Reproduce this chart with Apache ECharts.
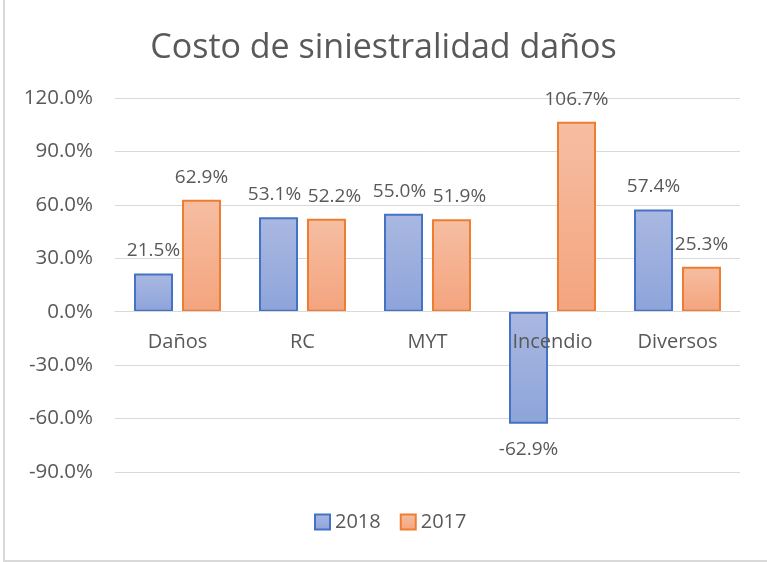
<!DOCTYPE html>
<html><head><meta charset="utf-8">
<script src="https://cdn.jsdelivr.net/npm/echarts@6/dist/echarts.min.js"></script>
<style>
html,body{margin:0;padding:0;background:#fff;}
#frame{position:absolute;left:3px;top:0;width:764px;height:560px;border-left:2px solid #d9d9d9;border-bottom:2px solid #d9d9d9;}
#c{position:absolute;left:0;top:0;width:767px;height:562px;}
</style></head>
<body>
<div id="frame"></div>
<div id="c"></div>
<script>
const categories = ['Daños', 'RC', 'MYT', 'Incendio', 'Diversos'];
const values2018 = [21.5, 53.1, 55.0, -62.9, 57.4];
const values2017 = [62.9, 52.2, 51.9, 106.7, 25.3];
const seriesNames = ['2018', '2017'];
const titleText = 'Costo de siniestralidad daños';
const yMin = -90, yMax = 120, yStep = 30;

const FONT = "'Open Sans', 'Liberation Sans', sans-serif";
const TXT = '#595959';
const GRID = {left: 115, right: 27, top: 98, bottom: 90};
const plotH = 562 - GRID.top - GRID.bottom;
// place the category axis where the value axis crosses zero
const zeroOffset = -plotH * (0 - yMin) / (yMax - yMin);

const chart = echarts.init(document.getElementById('c'));
function grad(a, b) {
  return new echarts.graphic.LinearGradient(0, 0, 0, 1, [{offset: 0, color: a}, {offset: 1, color: b}]);
}
const labelCfg = {
  show: true, position: 'top', distance: 13,
  color: TXT, fontSize: 19, fontFamily: FONT,
  formatter: p => p.value.toFixed(1) + '%'
};
// push neighbouring labels apart when the two bars of a category have similar heights
function spread(sign, shift) {
  return function (params) {
    const i = params.dataIndex;
    const close = Math.abs(values2018[i] - values2017[i]) < 12;
    return close ? {dx: sign * shift} : {};
  };
}
chart.setOption({
  animation: false,
  title: {
    text: titleText, left: 'center', top: 26,
    textStyle: {color: TXT, fontSize: 34, fontWeight: 'normal', fontFamily: FONT}
  },
  legend: {
    data: seriesNames, bottom: 25, left: 309, icon: 'rect',
    itemWidth: 15, itemHeight: 15, itemGap: 19,
    textStyle: {color: TXT, fontSize: 20, fontFamily: FONT}
  },
  grid: GRID,
  xAxis: {
    type: 'category', data: categories, offset: zeroOffset, z: 10,
    axisLine: {onZero: false, lineStyle: {color: '#d9d9d9', width: 1}},
    axisTick: {show: false},
    axisLabel: {color: TXT, fontSize: 20, fontFamily: FONT, margin: 21}
  },
  yAxis: {
    type: 'value', min: yMin, max: yMax, interval: yStep,
    axisLine: {show: false}, axisTick: {show: false},
    splitLine: {lineStyle: {color: '#d9d9d9', width: 1}},
    axisLabel: {color: TXT, fontSize: 20.5, fontFamily: FONT, margin: 22,
      formatter: v => v.toFixed(1) + '%'}
  },
  series: [
    {
      name: seriesNames[0], type: 'bar',
      data: values2018.map(v => v < 0 ? {value: v, label: {position: 'bottom', distance: 16}} : v),
      barWidth: 39, barGap: '23%',
      itemStyle: {color: grad('#AAB8E1', '#8DA4DA'), borderColor: '#4472C4', borderWidth: 2},
      label: Object.assign({}, labelCfg),
      labelLayout: spread(-1, 4)
    },
    {
      name: seriesNames[1], type: 'bar', data: values2017, barWidth: 39,
      itemStyle: {color: grad('#F6BEA2', '#F4A47E'), borderColor: '#ED7D31', borderWidth: 2},
      label: Object.assign({}, labelCfg),
      labelLayout: spread(1, 8)
    }
  ]
});
</script>
</body></html>
